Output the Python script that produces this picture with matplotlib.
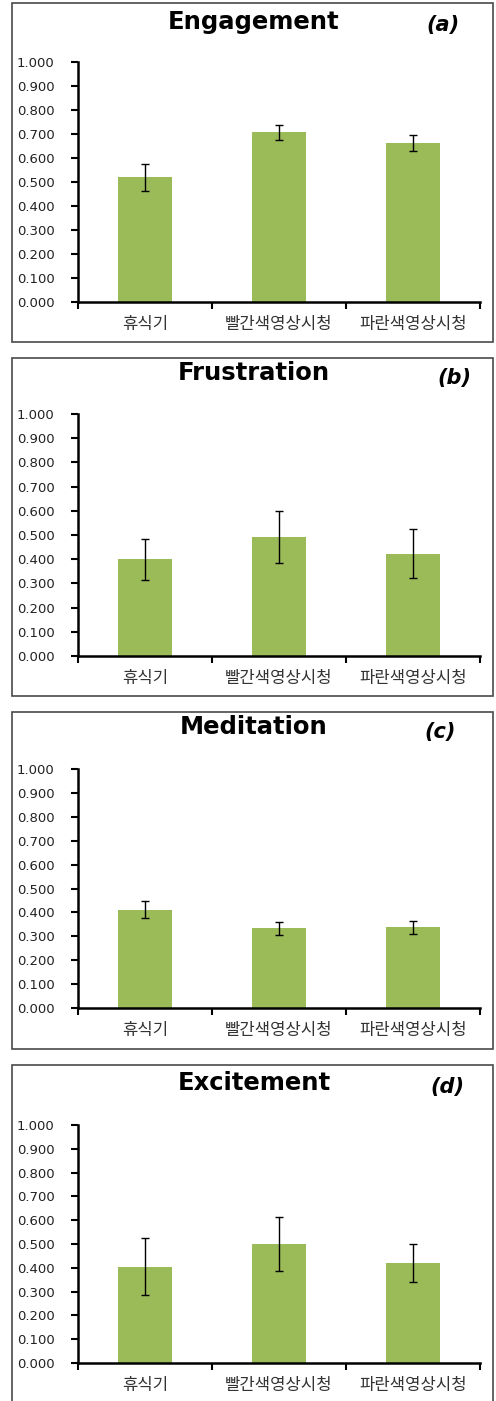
import matplotlib
matplotlib.use("Agg")
import matplotlib.pyplot as plt
from matplotlib.patches import Rectangle

categories = ["휴식기", "빨간색영상시청", "파란색영상시청"]
titles = ["Engagement", "Frustration", "Meditation", "Excitement"]
panel_tags = ["(a)", "(b)", "(c)", "(d)"]
engagement = [0.520, 0.707, 0.662]
engagement_err = [0.057, 0.032, 0.032]
frustration = [0.399, 0.492, 0.423]
frustration_err = [0.083, 0.108, 0.100]
meditation = [0.412, 0.333, 0.337]
meditation_err = [0.036, 0.026, 0.028]
excitement = [0.405, 0.500, 0.419]
excitement_err = [0.120, 0.113, 0.079]
yticks = [0.0, 0.1, 0.2, 0.3, 0.4, 0.5, 0.6, 0.7, 0.8, 0.9, 1.0]

values = [engagement, frustration, meditation, excitement]
errors = [engagement_err, frustration_err, meditation_err, excitement_err]

W, H = 496, 1401
fig = plt.figure(figsize=(W / 100, H / 100), dpi=100)
fig.patch.set_facecolor("white")

def fx(x):
    return x / W

def fy(y):
    return 1 - y / H

# pixel layout: (axes top, axes bottom, box top, box bottom, title y, tag x, tag y)
layout = [
    (62, 302, 3, 342, 22, 443, 25),
    (414, 656, 358, 696, 373, 454, 378),
    (769, 1008, 712, 1049, 727, 440, 732),
    (1125, 1363, 1065, 1410, 1083, 447, 1087),
]
ax_left, ax_right = 78, 480
box_left, box_right = 12, 493
bar_color = "#9BBB59"
cjk = ["Noto Sans CJK KR", "DejaVu Sans"]

for i in range(4):
    top, bot, btop, bbot, ty, tagx, tagy = layout[i]
    # panel border
    fig.patches.append(Rectangle((fx(box_left), fy(bbot)), fx(box_right) - fx(box_left),
                                 fy(btop) - fy(bbot), transform=fig.transFigure,
                                 fill=False, edgecolor="#4a4a4a", linewidth=1.2, zorder=0))
    ax = fig.add_axes([fx(ax_left), fy(bot), fx(ax_right) - fx(ax_left), fy(top) - fy(bot)])
    x = list(range(len(categories)))
    ax.bar(x, values[i], width=0.4, color=bar_color, zorder=2)
    ax.errorbar(x, values[i], yerr=errors[i], fmt="none", ecolor="black",
                elinewidth=1.0, capsize=3.0, capthick=1.0, zorder=3)
    ax.set_xlim(-0.5, 2.5)
    ax.set_ylim(0, 1.0)
    ax.set_yticks(yticks)
    ax.set_yticklabels([f"{v:.3f}" for v in yticks], fontsize=9.5, color="#222222")
    ax.set_xticks([-0.5, 0.5, 1.5, 2.5])
    ax.set_xticklabels([])
    ax.set_xticks(x, minor=True)
    ax.set_xticklabels(categories, minor=True, fontsize=12, family=cjk, color="#333333")
    ax.tick_params(axis="x", which="minor", length=0, pad=10)
    ax.tick_params(axis="x", which="major", direction="out", length=5, width=1.5)
    ax.tick_params(axis="y", direction="out", length=5, width=1.5, pad=12)
    for s in ["top", "right"]:
        ax.spines[s].set_visible(False)
    for s in ["left", "bottom"]:
        ax.spines[s].set_linewidth(1.8)
        ax.spines[s].set_color("black")
    fig.text(fx(254), fy(ty), titles[i], ha="center", va="center",
             fontsize=17.5, fontweight="bold", family="DejaVu Sans")
    fig.text(fx(tagx), fy(tagy), panel_tags[i], ha="center", va="center",
             fontsize=15, fontweight="bold", style="italic", family="DejaVu Sans")

fig.savefig("out.png", dpi=100, facecolor="white")
